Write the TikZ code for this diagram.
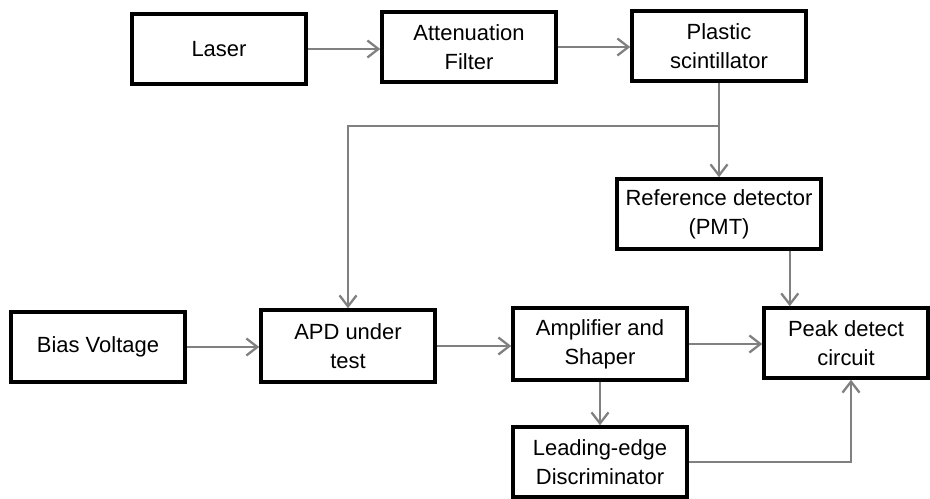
\documentclass[tikz,border=0pt]{standalone}
\usepackage{fontspec}
\setmainfont{Liberation Sans}
\usetikzlibrary{arrows.meta}
\definecolor{linegray}{RGB}{128,128,128}

\begin{document}
\begin{tikzpicture}[
    block/.style={draw=black, line width=2pt, fill=white, minimum width=3.48cm,
      minimum height=1.4cm, align=center, inner sep=1pt,
      font=\fontsize{12.5}{16.5}\selectfont},
    flow/.style={draw=linegray, line width=1.3pt,
      -{Straight Barb[length=2.2mm,width=3.4mm,line width=1.3pt]}},
    line/.style={draw=linegray, line width=1.3pt}
  ]
      \useasboundingbox (0,0) rectangle (18.6,9.96);
      \node[block] (laser) at (4.38,8.98) {Laser};
      \node[block] (atten) at (9.38,9.02) {Attenuation\\Filter};
      \node[block] (scint) at (14.38,9.04) {Plastic\\scintillator};
      \node[block, minimum width=4.08cm] (ref) at (14.38,5.68) {Reference detector\\(PMT)};
      \node[block] (bias) at (1.96,3.02) {Bias Voltage};
      \node[block, minimum height=1.44cm] (apd) at (6.96,3.04) {APD under\\test};
      \node[block, minimum height=1.44cm] (amp) at (12.0,3.08) {Amplifier and\\Shaper};
      \node[block, minimum width=3.28cm] (peak) at (16.92,3.10) {Peak detect\\circuit};
      \node[block] (disc) at (12.0,0.72) {Leading-edge\\Discriminator};
      \coordinate (split) at (14.38,7.44);
      \path ([xshift=-0.66cm]ref.south east) coordinate (pmt);
      \draw[flow] (laser) -- (laser -| atten.west);
      \draw[flow] (atten) -- (atten -| scint.west);
      \draw[line] (scint.south) -- (split);
      \draw[flow] (split) -- (ref.north);
      \draw[flow] (split) -| (apd.north);
      \draw[flow] (pmt) -- (pmt |- peak.north);
      \draw[flow] (bias) -- (bias -| apd.west);
      \draw[flow] (apd) -- (apd -| amp.west);
      \draw[flow] (amp) -- (amp -| peak.west);
      \draw[flow] (amp.south) -- (disc.north);
      \draw[flow] (disc.east) -| ([xshift=0.1cm]peak.south);
    \end{tikzpicture}
\end{document}
